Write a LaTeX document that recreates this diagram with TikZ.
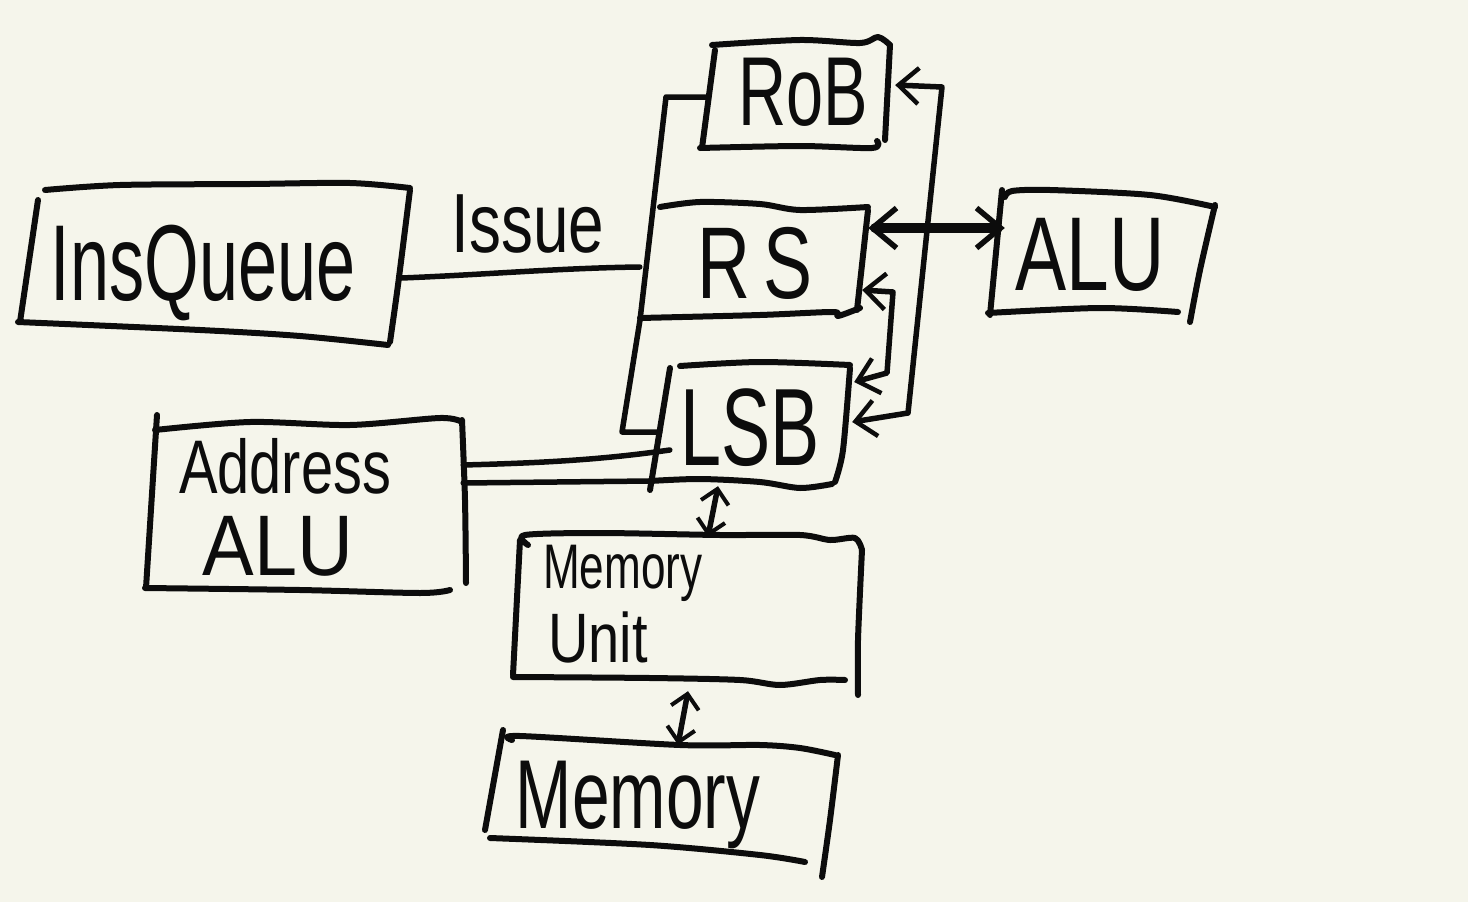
\documentclass[tikz,border=0pt]{standalone}
\usepackage{fontspec}
\setmainfont{Liberation Sans}
\usetikzlibrary{arrows.meta}
\definecolor{paper}{RGB}{245,245,235}
\definecolor{ink}{RGB}{12,12,12}
\newcommand{\hwtxt}[2]{\scalebox{#1}[1]{#2}}
\begin{document}
\begin{tikzpicture}[x=1pt,y=-1pt,
  pen/.style={draw=ink, line width=6pt, line cap=round, line join=round},
  wire/.style={draw=ink, line width=5.5pt, line cap=round, line join=round},
  barb/.style={{Straight Barb[length=20pt,width=36pt,line width=4.5pt]}-{Straight Barb[length=20pt,width=36pt,line width=4.5pt]}},
  smallbarb/.style={{Straight Barb[length=14pt,width=28pt,line width=4pt]}-{Straight Barb[length=14pt,width=28pt,line width=4pt]}},
  boxn/.style={draw=none, inner sep=0pt, rectangle},
  lbl/.style={text=ink, inner sep=0pt, anchor=base},
  lblw/.style={text=ink, inner sep=0pt, anchor=base west}]
\fill[paper] (0,0) rectangle (1468,902);
\useasboundingbox (0,0) rectangle (1468,902);

% invisible box nodes (for connector anchors)
\node[boxn, minimum width=184pt, minimum height=106pt] (rob) at (797,95) {};
\node[boxn, minimum width=214pt, minimum height=110pt] (rs) at (757,262) {};
\node[boxn, minimum width=184pt, minimum height=120pt] (lsb) at (752,425) {};
\node[boxn, minimum width=210pt, minimum height=120pt] (alu) at (1100,255) {};
\node[boxn, minimum width=374pt, minimum height=150pt] (insq) at (214,262) {};
\node[boxn, minimum width=312pt, minimum height=168pt] (aalu) at (307,506) {};
\node[boxn, minimum width=344pt, minimum height=144pt] (mu) at (688,608) {};
\node[boxn, minimum width=340pt, minimum height=104pt] (mem) at (665,798) {};

% hand-drawn outlines
% InsQueue
\draw[pen] plot[smooth] coordinates {(45,190) (120,185) (250,184) (350,183) (410,188)};
\draw[pen] (38,200) -- (20,322);
\draw[pen] plot[smooth] coordinates {(18,322) (200,330) (300,336) (388,345)};
\draw[pen] plot[smooth] coordinates {(410,190) (398,285) (390,342)};
% RoB
\draw[pen] plot[smooth] coordinates {(712,45) (800,40) (860,43) (878,37) (890,45)};
\draw[pen] (715,50) -- (702,148);
\draw[pen] plot[smooth] coordinates {(700,148) (800,146) (872,148) (877,141)};
\draw[pen] (890,45) -- (885,140);
% RS
\draw[pen] plot[smooth] coordinates {(660,207) (700,202) (760,204) (800,210) (868,207)};
\draw[pen] (868,210) -- (857,310);
\draw[pen] plot[smooth] coordinates {(640,318) (760,315) (833,312) (838,316) (860,308)};
% LSB
\draw[pen] plot[smooth] coordinates {(680,366) (760,362) (850,365)};
\draw[pen] (670,368) -- (650,490);
\draw[pen] plot[smooth] coordinates {(850,368) (843,450) (835,482)};
\draw[pen] plot[smooth] coordinates {(650,481) (700,479) (760,482) (800,488) (832,484)};
% ALU
\draw[pen] plot[smooth] coordinates {(1005,197) (1012,191) (1050,190) (1150,195) (1215,207)};
\draw[pen] (1002,190) -- (990,315);
\draw[pen] plot[smooth] coordinates {(988,313) (1100,308) (1178,312)};
\draw[pen] plot[smooth] coordinates {(1215,205) (1200,270) (1190,322)};
% Address ALU
\draw[pen] plot[smooth] coordinates {(155,430) (250,422) (350,425) (440,418) (462,422)};
\draw[pen] (157,415) -- (146,588);
\draw[pen] plot[smooth] coordinates {(145,588) (300,590) (420,593) (450,590)};
\draw[pen] plot[smooth] coordinates {(462,420) (465,500) (466,583)};
% Memory Unit
\draw[pen] plot[smooth] coordinates {(528,545) (525,535) (600,533) (720,535) (800,535) (830,540) (855,538) (862,550)};
\draw[pen] (520,540) -- (513,675);
\draw[pen] plot[smooth] coordinates {(513,677) (650,678) (740,680) (780,685) (820,680) (845,680)};
\draw[pen] plot[smooth] coordinates {(862,550) (858,640) (858,695)};
% Memory
\draw[pen] plot[smooth] coordinates {(512,740) (520,736) (680,745) (760,745) (800,748) (835,755)};
\draw[pen] (503,730) -- (485,830);
\draw[pen] plot[smooth] coordinates {(490,838) (650,845) (760,855) (805,862)};
\draw[pen] plot[smooth] coordinates {(838,755) (830,820) (822,877)};

% labels
\node[lbl, font=\fontsize{108}{108}\selectfont] (tinsq) at (203,300) {\hwtxt{0.65}{InsQueue}};
\node[lbl, font=\fontsize{98}{98}\selectfont] (trob) at (803,125) {\hwtxt{0.68}{RoB}};
\node[lbl, font=\fontsize{102}{102}\selectfont] (trs) at (755,298) {\hwtxt{0.72}{R\,S}};
\node[lbl, font=\fontsize{105}{105}\selectfont] (talu) at (1090,290) {\hwtxt{0.73}{ALU}};
\node[lbl, font=\fontsize{110}{110}\selectfont] (tlsb) at (750,465) {\hwtxt{0.67}{LSB}};
\node[lbl, font=\fontsize{84}{84}\selectfont] (tissue) at (528,252) {\hwtxt{0.76}{Issue}};
\node[lbl, font=\fontsize{76}{76}\selectfont] (taddr) at (285,493) {\hwtxt{0.76}{Address}};
\node[lbl, font=\fontsize{86}{86}\selectfont] (taalu) at (278,575) {\hwtxt{0.9}{ALU}};
\node[lblw, font=\fontsize{63}{63}\selectfont] (tmu1) at (543,588) {\hwtxt{0.70}{Memory}};
\node[lblw, font=\fontsize{70}{70}\selectfont] (tmu2) at (548,662) {\hwtxt{0.80}{Unit}};
\node[lbl, font=\fontsize{98}{98}\selectfont] (tmem) at (638,828) {\hwtxt{0.69}{Memory}};

% connectors
% Issue line
\draw[wire] ([yshift=-16pt]insq.east) .. controls (480,275) and (560,268) .. ([xshift=-10pt,yshift=-5pt]rs.west);
% RS <-> ALU (thick)
\draw[draw=ink, line width=10pt, line cap=round,
  {Straight Barb[length=24pt,width=40pt,line width=5.5pt]}-{Straight Barb[length=24pt,width=40pt,line width=5.5pt]}]
  ([xshift=4pt,yshift=34pt]rs.east) -- ([xshift=10pt,yshift=27pt]alu.west);
% RoB <-> LSB bus
\draw[wire, barb] ([xshift=6pt,yshift=10pt]rob.east) -- (942,87) -- (908,413) -- ([xshift=8pt,yshift=3pt]lsb.east);
% RS <-> LSB
\draw[wire, barb] ([xshift=-2pt,yshift=-28pt]rs.east) -- (893,292) -- (887,373) -- ([xshift=10pt,yshift=43pt]lsb.east);
% RoB bracket to LSB
\draw[wire] ([xshift=1pt,yshift=-2pt]rob.west) -- (666,97) -- (640,320) -- (622,432) -- ([yshift=-7pt]lsb.west);
% Address ALU to LSB (two lines)
\draw[wire] ([yshift=41pt]aalu.east) .. controls (540,463) and (600,460) .. ([xshift=10pt,yshift=-25pt]lsb.west);
\draw[wire] ([yshift=23pt]aalu.east) -- (650,481);
% LSB <-> Memory Unit
\draw[wire, smallbarb] ([xshift=-34pt,yshift=-1pt]lsb.south) -- ([xshift=20pt,yshift=-1pt]mu.north);
% Memory Unit <-> Memory
\draw[wire, smallbarb] ([xshift=0pt,yshift=-11pt]mu.south) -- ([xshift=13pt,yshift=1pt]mem.north);
\end{tikzpicture}
\end{document}
